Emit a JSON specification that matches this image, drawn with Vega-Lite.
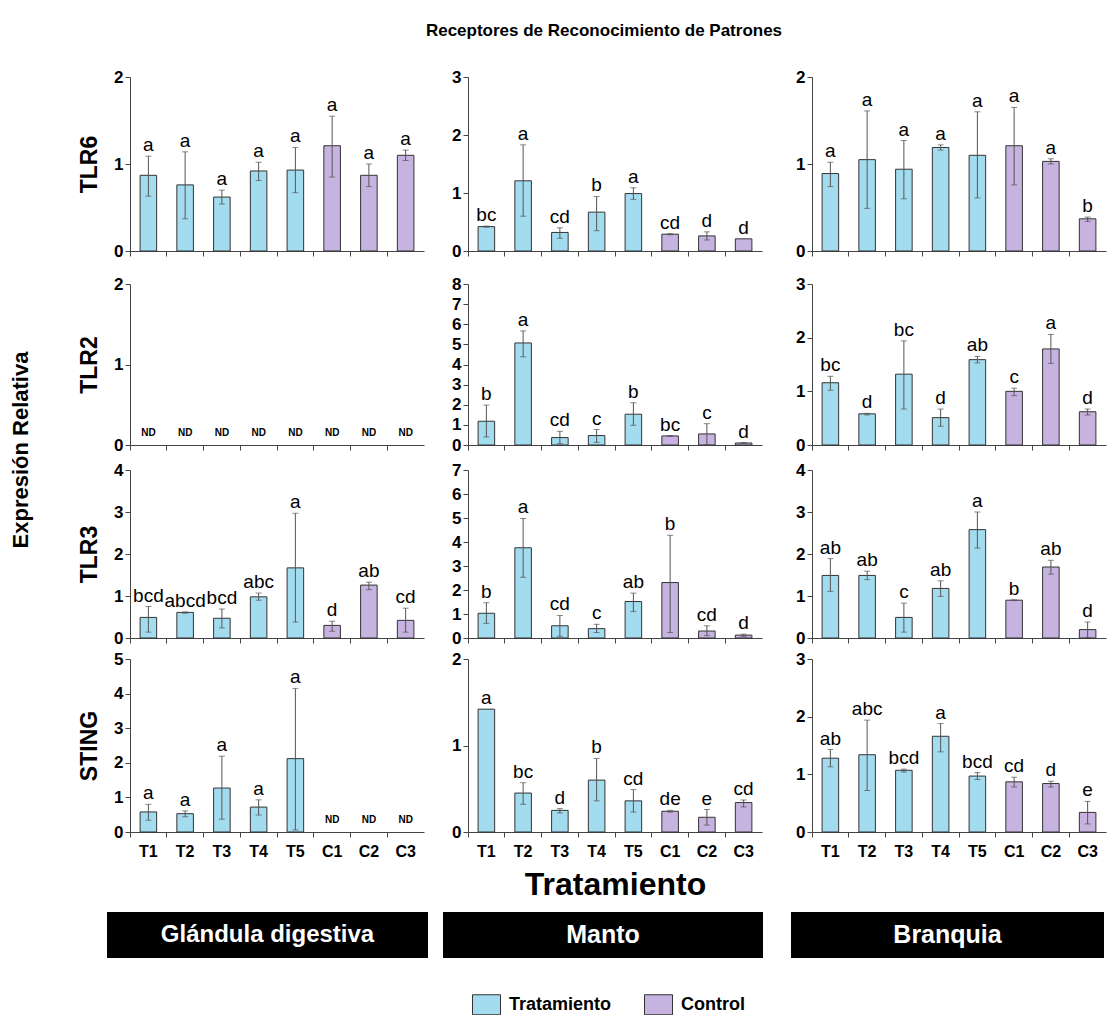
{
"$schema": "https://vega.github.io/schema/vega-lite/v6.json",
"padding": {"left": 10, "top": 22, "right": 3, "bottom": 5},
"title": {"text": "Receptores de Reconocimiento de Patrones", "fontSize": 17, "fontWeight": "bold", "anchor": "middle", "dx": 46, "offset": 28, "color": "black"},
"datasets": {"d": [
{"t":"G","g":"TLR6","x":"T1","grp":"Tratamiento","v":0.87,"lo":0.63,"hi":1.09,"l":"a"},
{"t":"G","g":"TLR6","x":"T2","grp":"Tratamiento","v":0.76,"lo":0.37,"hi":1.14,"l":"a"},
{"t":"G","g":"TLR6","x":"T3","grp":"Tratamiento","v":0.62,"lo":0.54,"hi":0.70,"l":"a"},
{"t":"G","g":"TLR6","x":"T4","grp":"Tratamiento","v":0.92,"lo":0.81,"hi":1.02,"l":"a"},
{"t":"G","g":"TLR6","x":"T5","grp":"Tratamiento","v":0.93,"lo":0.67,"hi":1.19,"l":"a"},
{"t":"G","g":"TLR6","x":"C1","grp":"Control","v":1.21,"lo":0.85,"hi":1.55,"l":"a"},
{"t":"G","g":"TLR6","x":"C2","grp":"Control","v":0.87,"lo":0.74,"hi":1.00,"l":"a"},
{"t":"G","g":"TLR6","x":"C3","grp":"Control","v":1.10,"lo":1.04,"hi":1.16,"l":"a"},
{"t":"G","g":"TLR2","x":"T1","grp":"Tratamiento","v":null,"lo":null,"hi":null,"l":"ND"},
{"t":"G","g":"TLR2","x":"T2","grp":"Tratamiento","v":null,"lo":null,"hi":null,"l":"ND"},
{"t":"G","g":"TLR2","x":"T3","grp":"Tratamiento","v":null,"lo":null,"hi":null,"l":"ND"},
{"t":"G","g":"TLR2","x":"T4","grp":"Tratamiento","v":null,"lo":null,"hi":null,"l":"ND"},
{"t":"G","g":"TLR2","x":"T5","grp":"Tratamiento","v":null,"lo":null,"hi":null,"l":"ND"},
{"t":"G","g":"TLR2","x":"C1","grp":"Control","v":null,"lo":null,"hi":null,"l":"ND"},
{"t":"G","g":"TLR2","x":"C2","grp":"Control","v":null,"lo":null,"hi":null,"l":"ND"},
{"t":"G","g":"TLR2","x":"C3","grp":"Control","v":null,"lo":null,"hi":null,"l":"ND"},
{"t":"G","g":"TLR3","x":"T1","grp":"Tratamiento","v":0.49,"lo":0.14,"hi":0.75,"l":"bcd"},
{"t":"G","g":"TLR3","x":"T2","grp":"Tratamiento","v":0.61,"lo":0.59,"hi":0.62,"l":"abcd"},
{"t":"G","g":"TLR3","x":"T3","grp":"Tratamiento","v":0.47,"lo":0.24,"hi":0.69,"l":"bcd"},
{"t":"G","g":"TLR3","x":"T4","grp":"Tratamiento","v":0.98,"lo":0.90,"hi":1.07,"l":"abc"},
{"t":"G","g":"TLR3","x":"T5","grp":"Tratamiento","v":1.67,"lo":0.38,"hi":2.97,"l":"a"},
{"t":"G","g":"TLR3","x":"C1","grp":"Control","v":0.30,"lo":0.16,"hi":0.40,"l":"d"},
{"t":"G","g":"TLR3","x":"C2","grp":"Control","v":1.26,"lo":1.15,"hi":1.33,"l":"ab"},
{"t":"G","g":"TLR3","x":"C3","grp":"Control","v":0.42,"lo":0.14,"hi":0.71,"l":"cd"},
{"t":"G","g":"STING","x":"T1","grp":"Tratamiento","v":0.58,"lo":0.34,"hi":0.80,"l":"a"},
{"t":"G","g":"STING","x":"T2","grp":"Tratamiento","v":0.53,"lo":0.44,"hi":0.61,"l":"a"},
{"t":"G","g":"STING","x":"T3","grp":"Tratamiento","v":1.27,"lo":0.37,"hi":2.19,"l":"a"},
{"t":"G","g":"STING","x":"T4","grp":"Tratamiento","v":0.72,"lo":0.49,"hi":0.93,"l":"a"},
{"t":"G","g":"STING","x":"T5","grp":"Tratamiento","v":2.12,"lo":0.06,"hi":4.15,"l":"a"},
{"t":"G","g":"STING","x":"C1","grp":"Control","v":null,"lo":null,"hi":null,"l":"ND"},
{"t":"G","g":"STING","x":"C2","grp":"Control","v":null,"lo":null,"hi":null,"l":"ND"},
{"t":"G","g":"STING","x":"C3","grp":"Control","v":null,"lo":null,"hi":null,"l":"ND"},
{"t":"M","g":"TLR6","x":"T1","grp":"Tratamiento","v":0.42,"lo":0.41,"hi":0.43,"l":"bc"},
{"t":"M","g":"TLR6","x":"T2","grp":"Tratamiento","v":1.21,"lo":0.60,"hi":1.83,"l":"a"},
{"t":"M","g":"TLR6","x":"T3","grp":"Tratamiento","v":0.32,"lo":0.22,"hi":0.40,"l":"cd"},
{"t":"M","g":"TLR6","x":"T4","grp":"Tratamiento","v":0.67,"lo":0.35,"hi":0.94,"l":"b"},
{"t":"M","g":"TLR6","x":"T5","grp":"Tratamiento","v":0.99,"lo":0.89,"hi":1.09,"l":"a"},
{"t":"M","g":"TLR6","x":"C1","grp":"Control","v":0.29,"lo":0.28,"hi":0.30,"l":"cd"},
{"t":"M","g":"TLR6","x":"C2","grp":"Control","v":0.26,"lo":0.19,"hi":0.33,"l":"d"},
{"t":"M","g":"TLR6","x":"C3","grp":"Control","v":0.21,"lo":null,"hi":null,"l":"d"},
{"t":"M","g":"TLR2","x":"T1","grp":"Tratamiento","v":1.18,"lo":0.40,"hi":1.98,"l":"b"},
{"t":"M","g":"TLR2","x":"T2","grp":"Tratamiento","v":5.07,"lo":4.38,"hi":5.67,"l":"a"},
{"t":"M","g":"TLR2","x":"T3","grp":"Tratamiento","v":0.37,"lo":0.07,"hi":0.68,"l":"cd"},
{"t":"M","g":"TLR2","x":"T4","grp":"Tratamiento","v":0.47,"lo":0.13,"hi":0.77,"l":"c"},
{"t":"M","g":"TLR2","x":"T5","grp":"Tratamiento","v":1.53,"lo":0.98,"hi":2.10,"l":"b"},
{"t":"M","g":"TLR2","x":"C1","grp":"Control","v":0.45,"lo":0.44,"hi":0.47,"l":"bc"},
{"t":"M","g":"TLR2","x":"C2","grp":"Control","v":0.55,"lo":0.02,"hi":1.06,"l":"c"},
{"t":"M","g":"TLR2","x":"C3","grp":"Control","v":0.10,"lo":0.09,"hi":0.12,"l":"d"},
{"t":"M","g":"TLR3","x":"T1","grp":"Tratamiento","v":1.03,"lo":0.61,"hi":1.47,"l":"b"},
{"t":"M","g":"TLR3","x":"T2","grp":"Tratamiento","v":3.76,"lo":2.53,"hi":4.98,"l":"a"},
{"t":"M","g":"TLR3","x":"T3","grp":"Tratamiento","v":0.51,"lo":0.07,"hi":0.94,"l":"cd"},
{"t":"M","g":"TLR3","x":"T4","grp":"Tratamiento","v":0.39,"lo":0.23,"hi":0.57,"l":"c"},
{"t":"M","g":"TLR3","x":"T5","grp":"Tratamiento","v":1.52,"lo":1.10,"hi":1.87,"l":"ab"},
{"t":"M","g":"TLR3","x":"C1","grp":"Control","v":2.31,"lo":0.23,"hi":4.28,"l":"b"},
{"t":"M","g":"TLR3","x":"C2","grp":"Control","v":0.29,"lo":0.10,"hi":0.51,"l":"cd"},
{"t":"M","g":"TLR3","x":"C3","grp":"Control","v":0.12,"lo":0.07,"hi":0.16,"l":"d"},
{"t":"M","g":"STING","x":"T1","grp":"Tratamiento","v":1.42,"lo":null,"hi":null,"l":"a"},
{"t":"M","g":"STING","x":"T2","grp":"Tratamiento","v":0.45,"lo":0.32,"hi":0.57,"l":"bc"},
{"t":"M","g":"STING","x":"T3","grp":"Tratamiento","v":0.25,"lo":0.22,"hi":0.27,"l":"d"},
{"t":"M","g":"STING","x":"T4","grp":"Tratamiento","v":0.60,"lo":0.36,"hi":0.85,"l":"b"},
{"t":"M","g":"STING","x":"T5","grp":"Tratamiento","v":0.36,"lo":0.23,"hi":0.49,"l":"cd"},
{"t":"M","g":"STING","x":"C1","grp":"Control","v":0.24,"lo":0.23,"hi":0.25,"l":"de"},
{"t":"M","g":"STING","x":"C2","grp":"Control","v":0.17,"lo":0.08,"hi":0.26,"l":"e"},
{"t":"M","g":"STING","x":"C3","grp":"Control","v":0.34,"lo":0.29,"hi":0.37,"l":"cd"},
{"t":"B","g":"TLR6","x":"T1","grp":"Tratamiento","v":0.89,"lo":0.74,"hi":1.02,"l":"a"},
{"t":"B","g":"TLR6","x":"T2","grp":"Tratamiento","v":1.05,"lo":0.49,"hi":1.61,"l":"a"},
{"t":"B","g":"TLR6","x":"T3","grp":"Tratamiento","v":0.94,"lo":0.60,"hi":1.27,"l":"a"},
{"t":"B","g":"TLR6","x":"T4","grp":"Tratamiento","v":1.19,"lo":1.16,"hi":1.22,"l":"a"},
{"t":"B","g":"TLR6","x":"T5","grp":"Tratamiento","v":1.10,"lo":0.61,"hi":1.60,"l":"a"},
{"t":"B","g":"TLR6","x":"C1","grp":"Control","v":1.21,"lo":0.76,"hi":1.65,"l":"a"},
{"t":"B","g":"TLR6","x":"C2","grp":"Control","v":1.03,"lo":1.00,"hi":1.06,"l":"a"},
{"t":"B","g":"TLR6","x":"C3","grp":"Control","v":0.37,"lo":0.34,"hi":0.39,"l":"b"},
{"t":"B","g":"TLR2","x":"T1","grp":"Tratamiento","v":1.16,"lo":1.02,"hi":1.28,"l":"bc"},
{"t":"B","g":"TLR2","x":"T2","grp":"Tratamiento","v":0.58,"lo":0.56,"hi":0.59,"l":"d"},
{"t":"B","g":"TLR2","x":"T3","grp":"Tratamiento","v":1.32,"lo":0.67,"hi":1.94,"l":"bc"},
{"t":"B","g":"TLR2","x":"T4","grp":"Tratamiento","v":0.51,"lo":0.35,"hi":0.67,"l":"d"},
{"t":"B","g":"TLR2","x":"T5","grp":"Tratamiento","v":1.59,"lo":1.53,"hi":1.65,"l":"ab"},
{"t":"B","g":"TLR2","x":"C1","grp":"Control","v":1.00,"lo":0.92,"hi":1.06,"l":"c"},
{"t":"B","g":"TLR2","x":"C2","grp":"Control","v":1.79,"lo":1.52,"hi":2.06,"l":"a"},
{"t":"B","g":"TLR2","x":"C3","grp":"Control","v":0.62,"lo":0.56,"hi":0.67,"l":"d"},
{"t":"B","g":"TLR3","x":"T1","grp":"Tratamiento","v":1.49,"lo":1.11,"hi":1.89,"l":"ab"},
{"t":"B","g":"TLR3","x":"T2","grp":"Tratamiento","v":1.49,"lo":1.39,"hi":1.59,"l":"ab"},
{"t":"B","g":"TLR3","x":"T3","grp":"Tratamiento","v":0.49,"lo":0.14,"hi":0.83,"l":"c"},
{"t":"B","g":"TLR3","x":"T4","grp":"Tratamiento","v":1.18,"lo":0.99,"hi":1.36,"l":"ab"},
{"t":"B","g":"TLR3","x":"T5","grp":"Tratamiento","v":2.58,"lo":2.14,"hi":3.00,"l":"a"},
{"t":"B","g":"TLR3","x":"C1","grp":"Control","v":0.90,"lo":0.89,"hi":0.91,"l":"b"},
{"t":"B","g":"TLR3","x":"C2","grp":"Control","v":1.69,"lo":1.52,"hi":1.85,"l":"ab"},
{"t":"B","g":"TLR3","x":"C3","grp":"Control","v":0.20,"lo":0.01,"hi":0.38,"l":"d"},
{"t":"B","g":"STING","x":"T1","grp":"Tratamiento","v":1.28,"lo":1.13,"hi":1.43,"l":"ab"},
{"t":"B","g":"STING","x":"T2","grp":"Tratamiento","v":1.34,"lo":0.72,"hi":1.94,"l":"abc"},
{"t":"B","g":"STING","x":"T3","grp":"Tratamiento","v":1.07,"lo":1.04,"hi":1.09,"l":"bcd"},
{"t":"B","g":"STING","x":"T4","grp":"Tratamiento","v":1.66,"lo":1.39,"hi":1.88,"l":"a"},
{"t":"B","g":"STING","x":"T5","grp":"Tratamiento","v":0.97,"lo":0.91,"hi":1.03,"l":"bcd"},
{"t":"B","g":"STING","x":"C1","grp":"Control","v":0.87,"lo":0.78,"hi":0.95,"l":"cd"},
{"t":"B","g":"STING","x":"C2","grp":"Control","v":0.84,"lo":0.78,"hi":0.88,"l":"d"},
{"t":"B","g":"STING","x":"C3","grp":"Control","v":0.34,"lo":0.14,"hi":0.53,"l":"e"}
]},
"data": {"name": "d"},
"spacing": 12,
"vconcat": [
{"spacing": 46, "hconcat": [
{"width": 20, "height": 746, "data": {"values": [{"name": "Expresión Relativa"}]}, "mark": {"type": "text", "angle": 270, "fontSize": 22, "fontWeight": "bold"}, "encoding": {"text": {"field": "name"}}},
{"spacing": 16, "vconcat": [
{"spacing": 27, "hconcat": [
{"width": 294, "height": 174,
 "transform": [{"filter": "datum.t==='G' && datum.g==='TLR6'"}, {"calculate": "datum.hi != null ? datum.hi : (datum.v != null ? datum.v : 0)", "as": "ly"}],
 "encoding": {"x": {"field": "x", "type": "nominal", "sort": null, "scale": {"domain": ["T1","T2","T3","T4","T5","C1","C2","C3"], "paddingInner": 0, "paddingOuter": 0}, "axis": {"labels": false, "title": null, "bandPosition": 0}}},
 "layer": [
  {"mark": {"type": "bar", "width": {"band": 0.45}, "stroke": "#333", "strokeWidth": 1}, "encoding": {"y": {"field": "v", "type": "quantitative", "scale": {"domain": [0, 2]}, "axis": {"tickCount": 2, "format": "d", "labelOverlap": false, "title": "TLR6"}}, "color": {"field": "grp", "type": "nominal", "scale": {"domain": ["Tratamiento","Control"], "range": ["#a3dcef","#c6b3df"]}, "legend": {"title": null}}}},
  {"mark": {"type": "rule", "color": "#555", "strokeWidth": 1}, "encoding": {"y": {"field": "lo", "type": "quantitative"}, "y2": {"field": "hi"}}},
  {"mark": {"type": "tick", "color": "#555", "size": 6, "thickness": 1}, "encoding": {"y": {"field": "lo", "type": "quantitative"}}},
  {"mark": {"type": "tick", "color": "#555", "size": 6, "thickness": 1}, "encoding": {"y": {"field": "hi", "type": "quantitative"}}},
  {"transform": [{"filter": "datum.l !== 'ND'"}], "mark": {"type": "text", "baseline": "alphabetic", "dy": -5, "fontSize": 19}, "encoding": {"y": {"field": "ly", "type": "quantitative"}, "text": {"field": "l"}}}
 ]},
{"spacing": 33, "hconcat": [
{"width": 294, "height": 174,
 "transform": [{"filter": "datum.t==='M' && datum.g==='TLR6'"}, {"calculate": "datum.hi != null ? datum.hi : (datum.v != null ? datum.v : 0)", "as": "ly"}],
 "encoding": {"x": {"field": "x", "type": "nominal", "sort": null, "scale": {"domain": ["T1","T2","T3","T4","T5","C1","C2","C3"], "paddingInner": 0, "paddingOuter": 0}, "axis": {"labels": false, "title": null, "bandPosition": 0}}},
 "layer": [
  {"mark": {"type": "bar", "width": {"band": 0.45}, "stroke": "#333", "strokeWidth": 1}, "encoding": {"y": {"field": "v", "type": "quantitative", "scale": {"domain": [0, 3]}, "axis": {"values": [0,1,2,3], "tickCount": 20, "format": "d", "title": null}}, "color": {"field": "grp", "type": "nominal", "legend": {"title": null}}}},
  {"mark": {"type": "rule", "color": "#555", "strokeWidth": 1}, "encoding": {"y": {"field": "lo", "type": "quantitative"}, "y2": {"field": "hi"}}},
  {"mark": {"type": "tick", "color": "#555", "size": 6, "thickness": 1}, "encoding": {"y": {"field": "lo", "type": "quantitative"}}},
  {"mark": {"type": "tick", "color": "#555", "size": 6, "thickness": 1}, "encoding": {"y": {"field": "hi", "type": "quantitative"}}},
  {"transform": [{"filter": "datum.l !== 'ND'"}], "mark": {"type": "text", "baseline": "alphabetic", "dy": -5, "fontSize": 19}, "encoding": {"y": {"field": "ly", "type": "quantitative"}, "text": {"field": "l"}}}
 ]},
{"width": 294, "height": 174,
 "transform": [{"filter": "datum.t==='B' && datum.g==='TLR6'"}, {"calculate": "datum.hi != null ? datum.hi : (datum.v != null ? datum.v : 0)", "as": "ly"}],
 "encoding": {"x": {"field": "x", "type": "nominal", "sort": null, "scale": {"domain": ["T1","T2","T3","T4","T5","C1","C2","C3"], "paddingInner": 0, "paddingOuter": 0}, "axis": {"labels": false, "title": null, "bandPosition": 0}}},
 "layer": [
  {"mark": {"type": "bar", "width": {"band": 0.45}, "stroke": "#333", "strokeWidth": 1}, "encoding": {"y": {"field": "v", "type": "quantitative", "scale": {"domain": [0, 2]}, "axis": {"tickCount": 2, "format": "d", "labelOverlap": false, "title": null}}, "color": {"field": "grp", "type": "nominal", "legend": {"title": null}}}},
  {"mark": {"type": "rule", "color": "#555", "strokeWidth": 1}, "encoding": {"y": {"field": "lo", "type": "quantitative"}, "y2": {"field": "hi"}}},
  {"mark": {"type": "tick", "color": "#555", "size": 6, "thickness": 1}, "encoding": {"y": {"field": "lo", "type": "quantitative"}}},
  {"mark": {"type": "tick", "color": "#555", "size": 6, "thickness": 1}, "encoding": {"y": {"field": "hi", "type": "quantitative"}}},
  {"transform": [{"filter": "datum.l !== 'ND'"}], "mark": {"type": "text", "baseline": "alphabetic", "dy": -5, "fontSize": 19}, "encoding": {"y": {"field": "ly", "type": "quantitative"}, "text": {"field": "l"}}}
 ]}
]}
]},
{"spacing": 8, "vconcat": [
{"spacing": 27, "hconcat": [
{"width": 294, "height": 161,
 "transform": [{"filter": "datum.t==='G' && datum.g==='TLR2'"}, {"calculate": "datum.hi != null ? datum.hi : (datum.v != null ? datum.v : 0)", "as": "ly"}],
 "encoding": {"x": {"field": "x", "type": "nominal", "sort": null, "scale": {"domain": ["T1","T2","T3","T4","T5","C1","C2","C3"], "paddingInner": 0, "paddingOuter": 0}, "axis": {"labels": false, "title": null, "bandPosition": 0}}},
 "layer": [
  {"mark": {"type": "bar", "width": {"band": 0.45}, "stroke": "#333", "strokeWidth": 1}, "encoding": {"y": {"field": "v", "type": "quantitative", "scale": {"domain": [0, 2]}, "axis": {"tickCount": 2, "format": "d", "labelOverlap": false, "title": "TLR2"}}, "color": {"field": "grp", "type": "nominal", "legend": {"title": null}}}},
  {"transform": [{"filter": "datum.l === 'ND'"}], "mark": {"type": "text", "baseline": "middle", "dy": -12, "fontSize": 10, "fontWeight": "bold"}, "encoding": {"y": {"field": "ly", "type": "quantitative"}, "text": {"field": "l"}}}
 ]},
{"spacing": 33, "hconcat": [
{"width": 294, "height": 161,
 "transform": [{"filter": "datum.t==='M' && datum.g==='TLR2'"}, {"calculate": "datum.hi != null ? datum.hi : (datum.v != null ? datum.v : 0)", "as": "ly"}],
 "encoding": {"x": {"field": "x", "type": "nominal", "sort": null, "scale": {"domain": ["T1","T2","T3","T4","T5","C1","C2","C3"], "paddingInner": 0, "paddingOuter": 0}, "axis": {"labels": false, "title": null, "bandPosition": 0}}},
 "layer": [
  {"mark": {"type": "bar", "width": {"band": 0.45}, "stroke": "#333", "strokeWidth": 1}, "encoding": {"y": {"field": "v", "type": "quantitative", "scale": {"domain": [0, 8]}, "axis": {"values": [0,1,2,3,4,5,6,7,8], "tickCount": 20, "format": "d", "title": null}}, "color": {"field": "grp", "type": "nominal", "legend": {"title": null}}}},
  {"mark": {"type": "rule", "color": "#555", "strokeWidth": 1}, "encoding": {"y": {"field": "lo", "type": "quantitative"}, "y2": {"field": "hi"}}},
  {"mark": {"type": "tick", "color": "#555", "size": 6, "thickness": 1}, "encoding": {"y": {"field": "lo", "type": "quantitative"}}},
  {"mark": {"type": "tick", "color": "#555", "size": 6, "thickness": 1}, "encoding": {"y": {"field": "hi", "type": "quantitative"}}},
  {"transform": [{"filter": "datum.l !== 'ND'"}], "mark": {"type": "text", "baseline": "alphabetic", "dy": -5, "fontSize": 19}, "encoding": {"y": {"field": "ly", "type": "quantitative"}, "text": {"field": "l"}}}
 ]},
{"width": 294, "height": 161,
 "transform": [{"filter": "datum.t==='B' && datum.g==='TLR2'"}, {"calculate": "datum.hi != null ? datum.hi : (datum.v != null ? datum.v : 0)", "as": "ly"}],
 "encoding": {"x": {"field": "x", "type": "nominal", "sort": null, "scale": {"domain": ["T1","T2","T3","T4","T5","C1","C2","C3"], "paddingInner": 0, "paddingOuter": 0}, "axis": {"labels": false, "title": null, "bandPosition": 0}}},
 "layer": [
  {"mark": {"type": "bar", "width": {"band": 0.45}, "stroke": "#333", "strokeWidth": 1}, "encoding": {"y": {"field": "v", "type": "quantitative", "scale": {"domain": [0, 3]}, "axis": {"values": [0,1,2,3], "tickCount": 20, "format": "d", "title": null}}, "color": {"field": "grp", "type": "nominal", "legend": {"title": null}}}},
  {"mark": {"type": "rule", "color": "#555", "strokeWidth": 1}, "encoding": {"y": {"field": "lo", "type": "quantitative"}, "y2": {"field": "hi"}}},
  {"mark": {"type": "tick", "color": "#555", "size": 6, "thickness": 1}, "encoding": {"y": {"field": "lo", "type": "quantitative"}}},
  {"mark": {"type": "tick", "color": "#555", "size": 6, "thickness": 1}, "encoding": {"y": {"field": "hi", "type": "quantitative"}}},
  {"transform": [{"filter": "datum.l !== 'ND'"}], "mark": {"type": "text", "baseline": "alphabetic", "dy": -5, "fontSize": 19}, "encoding": {"y": {"field": "ly", "type": "quantitative"}, "text": {"field": "l"}}}
 ]}
]}
]},
{"spacing": 4, "vconcat": [
{"spacing": 27, "hconcat": [
{"width": 294, "height": 168,
 "transform": [{"filter": "datum.t==='G' && datum.g==='TLR3'"}, {"calculate": "datum.hi != null ? datum.hi : (datum.v != null ? datum.v : 0)", "as": "ly"}],
 "encoding": {"x": {"field": "x", "type": "nominal", "sort": null, "scale": {"domain": ["T1","T2","T3","T4","T5","C1","C2","C3"], "paddingInner": 0, "paddingOuter": 0}, "axis": {"labels": false, "title": null, "bandPosition": 0}}},
 "layer": [
  {"mark": {"type": "bar", "width": {"band": 0.45}, "stroke": "#333", "strokeWidth": 1}, "encoding": {"y": {"field": "v", "type": "quantitative", "scale": {"domain": [0, 4]}, "axis": {"values": [0,1,2,3,4], "tickCount": 20, "format": "d", "title": "TLR3"}}, "color": {"field": "grp", "type": "nominal", "legend": {"title": null}}}},
  {"mark": {"type": "rule", "color": "#555", "strokeWidth": 1}, "encoding": {"y": {"field": "lo", "type": "quantitative"}, "y2": {"field": "hi"}}},
  {"mark": {"type": "tick", "color": "#555", "size": 6, "thickness": 1}, "encoding": {"y": {"field": "lo", "type": "quantitative"}}},
  {"mark": {"type": "tick", "color": "#555", "size": 6, "thickness": 1}, "encoding": {"y": {"field": "hi", "type": "quantitative"}}},
  {"transform": [{"filter": "datum.l !== 'ND'"}], "mark": {"type": "text", "baseline": "alphabetic", "dy": -5, "fontSize": 19}, "encoding": {"y": {"field": "ly", "type": "quantitative"}, "text": {"field": "l"}}}
 ]},
{"spacing": 33, "hconcat": [
{"width": 294, "height": 168,
 "transform": [{"filter": "datum.t==='M' && datum.g==='TLR3'"}, {"calculate": "datum.hi != null ? datum.hi : (datum.v != null ? datum.v : 0)", "as": "ly"}],
 "encoding": {"x": {"field": "x", "type": "nominal", "sort": null, "scale": {"domain": ["T1","T2","T3","T4","T5","C1","C2","C3"], "paddingInner": 0, "paddingOuter": 0}, "axis": {"labels": false, "title": null, "bandPosition": 0}}},
 "layer": [
  {"mark": {"type": "bar", "width": {"band": 0.45}, "stroke": "#333", "strokeWidth": 1}, "encoding": {"y": {"field": "v", "type": "quantitative", "scale": {"domain": [0, 7]}, "axis": {"values": [0,1,2,3,4,5,6,7], "tickCount": 20, "format": "d", "title": null}}, "color": {"field": "grp", "type": "nominal", "legend": {"title": null}}}},
  {"mark": {"type": "rule", "color": "#555", "strokeWidth": 1}, "encoding": {"y": {"field": "lo", "type": "quantitative"}, "y2": {"field": "hi"}}},
  {"mark": {"type": "tick", "color": "#555", "size": 6, "thickness": 1}, "encoding": {"y": {"field": "lo", "type": "quantitative"}}},
  {"mark": {"type": "tick", "color": "#555", "size": 6, "thickness": 1}, "encoding": {"y": {"field": "hi", "type": "quantitative"}}},
  {"transform": [{"filter": "datum.l !== 'ND'"}], "mark": {"type": "text", "baseline": "alphabetic", "dy": -5, "fontSize": 19}, "encoding": {"y": {"field": "ly", "type": "quantitative"}, "text": {"field": "l"}}}
 ]},
{"width": 294, "height": 168,
 "transform": [{"filter": "datum.t==='B' && datum.g==='TLR3'"}, {"calculate": "datum.hi != null ? datum.hi : (datum.v != null ? datum.v : 0)", "as": "ly"}],
 "encoding": {"x": {"field": "x", "type": "nominal", "sort": null, "scale": {"domain": ["T1","T2","T3","T4","T5","C1","C2","C3"], "paddingInner": 0, "paddingOuter": 0}, "axis": {"labels": false, "title": null, "bandPosition": 0}}},
 "layer": [
  {"mark": {"type": "bar", "width": {"band": 0.45}, "stroke": "#333", "strokeWidth": 1}, "encoding": {"y": {"field": "v", "type": "quantitative", "scale": {"domain": [0, 4]}, "axis": {"values": [0,1,2,3,4], "tickCount": 20, "format": "d", "title": null}}, "color": {"field": "grp", "type": "nominal", "legend": {"title": null}}}},
  {"mark": {"type": "rule", "color": "#555", "strokeWidth": 1}, "encoding": {"y": {"field": "lo", "type": "quantitative"}, "y2": {"field": "hi"}}},
  {"mark": {"type": "tick", "color": "#555", "size": 6, "thickness": 1}, "encoding": {"y": {"field": "lo", "type": "quantitative"}}},
  {"mark": {"type": "tick", "color": "#555", "size": 6, "thickness": 1}, "encoding": {"y": {"field": "hi", "type": "quantitative"}}},
  {"transform": [{"filter": "datum.l !== 'ND'"}], "mark": {"type": "text", "baseline": "alphabetic", "dy": -5, "fontSize": 19}, "encoding": {"y": {"field": "ly", "type": "quantitative"}, "text": {"field": "l"}}}
 ]}
]}
]},
{"spacing": 27, "hconcat": [
{"width": 294, "height": 173,
 "transform": [{"filter": "datum.t==='G' && datum.g==='STING'"}, {"calculate": "datum.hi != null ? datum.hi : (datum.v != null ? datum.v : 0)", "as": "ly"}],
 "encoding": {"x": {"field": "x", "type": "nominal", "sort": null, "scale": {"domain": ["T1","T2","T3","T4","T5","C1","C2","C3"], "paddingInner": 0, "paddingOuter": 0}, "axis": {"title": null, "bandPosition": 0}}},
 "layer": [
  {"mark": {"type": "bar", "width": {"band": 0.45}, "stroke": "#333", "strokeWidth": 1}, "encoding": {"y": {"field": "v", "type": "quantitative", "scale": {"domain": [0, 5]}, "axis": {"values": [0,1,2,3,4,5], "tickCount": 20, "format": "d", "title": "STING"}}, "color": {"field": "grp", "type": "nominal", "legend": {"title": null}}}},
  {"mark": {"type": "rule", "color": "#555", "strokeWidth": 1}, "encoding": {"y": {"field": "lo", "type": "quantitative"}, "y2": {"field": "hi"}}},
  {"mark": {"type": "tick", "color": "#555", "size": 6, "thickness": 1}, "encoding": {"y": {"field": "lo", "type": "quantitative"}}},
  {"mark": {"type": "tick", "color": "#555", "size": 6, "thickness": 1}, "encoding": {"y": {"field": "hi", "type": "quantitative"}}},
  {"transform": [{"filter": "datum.l !== 'ND'"}], "mark": {"type": "text", "baseline": "alphabetic", "dy": -5, "fontSize": 19}, "encoding": {"y": {"field": "ly", "type": "quantitative"}, "text": {"field": "l"}}},
  {"transform": [{"filter": "datum.l === 'ND'"}], "mark": {"type": "text", "baseline": "middle", "dy": -12, "fontSize": 10, "fontWeight": "bold"}, "encoding": {"y": {"field": "ly", "type": "quantitative"}, "text": {"field": "l"}}}
 ]},
{"spacing": 33, "hconcat": [
{"width": 294, "height": 173,
 "transform": [{"filter": "datum.t==='M' && datum.g==='STING'"}, {"calculate": "datum.hi != null ? datum.hi : (datum.v != null ? datum.v : 0)", "as": "ly"}],
 "encoding": {"x": {"field": "x", "type": "nominal", "sort": null, "scale": {"domain": ["T1","T2","T3","T4","T5","C1","C2","C3"], "paddingInner": 0, "paddingOuter": 0}, "axis": {"title": "Tratamiento", "titleFontSize": 32, "titlePadding": 10, "bandPosition": 0}}},
 "layer": [
  {"mark": {"type": "bar", "width": {"band": 0.45}, "stroke": "#333", "strokeWidth": 1}, "encoding": {"y": {"field": "v", "type": "quantitative", "scale": {"domain": [0, 2]}, "axis": {"tickCount": 2, "format": "d", "labelOverlap": false, "title": null}}, "color": {"field": "grp", "type": "nominal", "legend": {"title": null}}}},
  {"mark": {"type": "rule", "color": "#555", "strokeWidth": 1}, "encoding": {"y": {"field": "lo", "type": "quantitative"}, "y2": {"field": "hi"}}},
  {"mark": {"type": "tick", "color": "#555", "size": 6, "thickness": 1}, "encoding": {"y": {"field": "lo", "type": "quantitative"}}},
  {"mark": {"type": "tick", "color": "#555", "size": 6, "thickness": 1}, "encoding": {"y": {"field": "hi", "type": "quantitative"}}},
  {"transform": [{"filter": "datum.l !== 'ND'"}], "mark": {"type": "text", "baseline": "alphabetic", "dy": -5, "fontSize": 19}, "encoding": {"y": {"field": "ly", "type": "quantitative"}, "text": {"field": "l"}}}
 ]},
{"width": 294, "height": 173,
 "transform": [{"filter": "datum.t==='B' && datum.g==='STING'"}, {"calculate": "datum.hi != null ? datum.hi : (datum.v != null ? datum.v : 0)", "as": "ly"}],
 "encoding": {"x": {"field": "x", "type": "nominal", "sort": null, "scale": {"domain": ["T1","T2","T3","T4","T5","C1","C2","C3"], "paddingInner": 0, "paddingOuter": 0}, "axis": {"title": null, "bandPosition": 0}}},
 "layer": [
  {"mark": {"type": "bar", "width": {"band": 0.45}, "stroke": "#333", "strokeWidth": 1}, "encoding": {"y": {"field": "v", "type": "quantitative", "scale": {"domain": [0, 3]}, "axis": {"values": [0,1,2,3], "tickCount": 20, "format": "d", "title": null}}, "color": {"field": "grp", "type": "nominal", "legend": {"title": null}}}},
  {"mark": {"type": "rule", "color": "#555", "strokeWidth": 1}, "encoding": {"y": {"field": "lo", "type": "quantitative"}, "y2": {"field": "hi"}}},
  {"mark": {"type": "tick", "color": "#555", "size": 6, "thickness": 1}, "encoding": {"y": {"field": "lo", "type": "quantitative"}}},
  {"mark": {"type": "tick", "color": "#555", "size": 6, "thickness": 1}, "encoding": {"y": {"field": "hi", "type": "quantitative"}}},
  {"transform": [{"filter": "datum.l !== 'ND'"}], "mark": {"type": "text", "baseline": "alphabetic", "dy": -5, "fontSize": 19}, "encoding": {"y": {"field": "ly", "type": "quantitative"}, "text": {"field": "l"}}}
 ]}
]}
]}
]}
]}
]}
]},
{"spacing": 15, "hconcat": [
 {"width": 81, "height": 46, "data": {"values": [{"name": ""}]}, "mark": {"type": "text"}, "encoding": {"text": {"field": "name"}}},
 {"width": 321, "height": 46, "view": {"fill": "black", "stroke": null}, "data": {"values": [{"name": "Glándula digestiva"}]}, "mark": {"type": "text", "color": "white", "fontSize": 24, "fontWeight": "bold"}, "encoding": {"text": {"field": "name"}}},
 {"spacing": 28, "hconcat": [
  {"width": 320, "height": 46, "view": {"fill": "black", "stroke": null}, "data": {"values": [{"name": "Manto"}]}, "mark": {"type": "text", "color": "white", "fontSize": 25, "fontWeight": "bold"}, "encoding": {"text": {"field": "name"}}},
  {"width": 313, "height": 46, "view": {"fill": "black", "stroke": null}, "data": {"values": [{"name": "Branquia"}]}, "mark": {"type": "text", "color": "white", "fontSize": 25, "fontWeight": "bold"}, "encoding": {"text": {"field": "name"}}}
 ]}
]}
],
"config": {
 "font": "Liberation Sans",
 "view": {"stroke": null},
 "axis": {"grid": false, "domainColor": "#444", "tickColor": "#444", "labelColor": "black", "labelFontWeight": "bold", "labelFontSize": 17, "labelFont": "Liberation Sans", "titleFont": "Liberation Sans", "titleColor": "black", "titleFontWeight": "bold", "titleFontSize": 23, "tickSize": 5, "labelPadding": 2, "titlePadding": 12, "labelOverlap": false},
 "axisX": {"labelAngle": 0, "labelFontSize": 16, "labelPadding": 6},
 "text": {"font": "Liberation Sans", "color": "black"},
 "title": {"font": "Liberation Sans"},
 "legend": {"orient": "none", "legendX": 465, "legendY": 917, "direction": "horizontal", "labelFontSize": 18, "labelFontWeight": "bold", "labelColor": "black", "symbolType": "M-1.4,-1H1.4V1H-1.4Z", "symbolSize": 400, "symbolStrokeColor": "#333", "symbolStrokeWidth": 1, "symbolOpacity": 1, "labelOffset": 12, "columnPadding": 30}
}
}
